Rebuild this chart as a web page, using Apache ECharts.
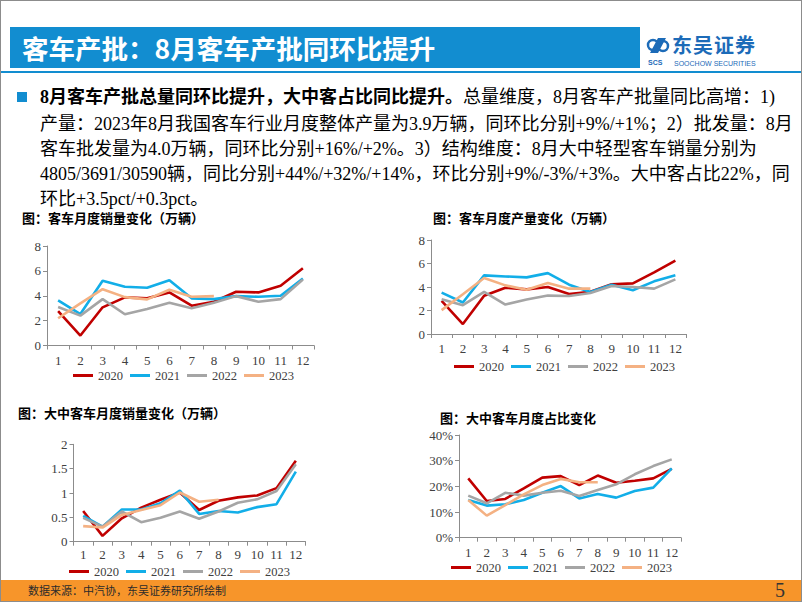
<!DOCTYPE html>
<html><head><meta charset="utf-8">
<script src="https://cdn.jsdelivr.net/npm/echarts@6/dist/echarts.min.js"></script>
<style>
html,body{margin:0;padding:0;background:#fff;}
#page{position:relative;width:802px;height:602px;overflow:hidden;background:#fff;}
#chart{position:absolute;left:0;top:0;width:802px;height:602px;}
.frame{position:absolute;left:0;top:0;width:800px;height:600px;border:1px solid #8c8c8c;pointer-events:none;}
.hdr{position:absolute;left:10px;top:27px;width:630px;height:41px;background:#128dd0;}
.hdr span{position:absolute;left:12px;top:0;line-height:41px;color:#fff;font-family:"Noto Sans CJK SC";font-weight:bold;font-size:26.5px;white-space:nowrap;}
.bar{position:absolute;left:0;top:71px;width:802px;height:2px;background:#128dd0;}
.bullet{position:absolute;left:17px;top:92px;width:10px;height:10px;background:#128dd0;}
.ln{position:absolute;left:40px;white-space:nowrap;font-family:"Liberation Serif","Noto Sans CJK SC";font-size:18px;line-height:24px;color:#000;}
.ln b{font-family:"Liberation Serif","Noto Sans CJK SC";font-weight:bold;}
.foot{position:absolute;left:0;top:580px;width:802px;height:21px;background:#f7952a;}
.foot .src{position:absolute;left:28px;top:0;line-height:21px;font-family:"Noto Sans CJK SC";font-size:11px;color:#2b2b2b;}
.foot .pg{position:absolute;right:17px;top:-2px;line-height:24px;font-family:"Liberation Serif";font-size:20px;color:#333;}
.logo{position:absolute;left:646px;top:35px;width:150px;height:34px;}
.logo .cn{position:absolute;left:26px;top:0;font-family:"Noto Sans CJK SC";font-weight:bold;font-size:20px;line-height:20px;color:#1c6bb8;letter-spacing:1px;}
.logo .en{position:absolute;left:28px;top:25px;font-family:"Liberation Sans";font-size:7px;line-height:8px;color:#1c6bb8;}
.logo .scs{position:absolute;left:2px;top:24px;font-family:"Liberation Sans";font-weight:bold;font-size:7px;line-height:8px;color:#1c6bb8;}
</style></head>
<body>
<div id="page">
  <div class="hdr"><span>客车产批：8月客车产批同环比提升</span></div>
  <div class="logo">
    <svg width="24" height="22" style="position:absolute;left:0;top:0">
      <path d="M4 18 L12 3 L20 3 L12 18 Z" fill="#1c6bb8"/>
      <circle cx="7" cy="10" r="5" fill="none" stroke="#1c6bb8" stroke-width="2.5"/>
      <circle cx="17" cy="11" r="5" fill="none" stroke="#1c6bb8" stroke-width="2.5"/>
    </svg>
    <div class="scs">SCS</div>
    <div class="cn">东吴证券</div>
    <div class="en">SOOCHOW SECURITIES</div>
  </div>
  <div class="bar"></div>
  <div class="bullet"></div>
  <div class="ln" style="top:85px"><b>8月客车产批总量同环比提升，大中客占比同比提升。</b>总量维度，8月客车产批量同比高增：1)</div>
  <div class="ln" style="top:112px">产量：2023年8月我国客车行业月度整体产量为3.9万辆，同环比分别+9%/+1%；2）批发量：8月</div>
  <div class="ln" style="top:137px">客车批发量为4.0万辆，同环比分别+16%/+2%。3）结构维度：8月大中轻型客车销量分别为</div>
  <div class="ln" style="top:162px">4805/3691/30590辆，同比分别+44%/+32%/+14%，环比分别+9%/-3%/+3%。大中客占比22%，同</div>
  <div class="ln" style="top:187px">环比+3.5pct/+0.3pct。</div>
  <div id="chart"></div>
  <div class="foot"><span class="src">数据来源：中汽协，东吴证券研究所绘制</span><span class="pg">5</span></div>
  <div class="frame"></div>
</div>
<script>
const months = ['1','2','3','4','5','6','7','8','9','10','11','12'];
const years = ['2020','2021','2022','2023'];
const chartTitles = ['图：客车月度销量变化（万辆）','图：客车月度产量变化（万辆）','图：大中客车月度销量变化（万辆）','图：大中客车月度占比变化'];

const sales2020 = [2.77,0.80,3.07,3.87,3.79,4.27,3.20,3.52,4.32,4.27,4.80,6.21];
const sales2021 = [3.63,2.53,5.20,4.72,4.64,5.25,3.79,3.73,3.97,3.92,4.00,5.39];
const sales2022 = [3.09,2.40,3.73,2.51,2.93,3.44,2.99,3.44,3.97,3.52,3.73,5.31];
const sales2023 = [2.19,3.39,4.53,3.89,3.71,4.48,3.92,3.97];

const prod2020 = [2.81,0.85,3.26,3.94,3.80,4.00,3.40,3.60,4.23,4.31,5.25,6.25];
const prod2021 = [3.52,2.68,4.99,4.90,4.82,5.18,4.20,3.58,4.20,3.72,4.48,4.99];
const prod2022 = [2.96,2.45,3.58,2.51,2.93,3.27,3.24,3.49,4.08,4.00,3.86,4.65];
const prod2023 = [2.03,3.38,4.76,4.14,3.77,4.34,3.86,3.86];

const large2020 = [0.63,0.12,0.48,0.70,0.86,1.01,0.65,0.84,0.91,0.95,1.10,1.66];
const large2021 = [0.53,0.31,0.66,0.66,0.79,1.05,0.57,0.63,0.60,0.71,0.77,1.44];
const large2022 = [0.49,0.31,0.62,0.40,0.49,0.62,0.47,0.62,0.80,0.87,1.04,1.59];
const large2023 = [0.32,0.29,0.55,0.65,0.75,1.01,0.82,0.86];

const share2020 = [23.1,14.3,15.1,19.2,23.4,24.0,20.5,24.2,21.4,22.2,23.1,26.8];
const share2021 = [14.7,12.5,13.0,14.7,17.5,20.1,15.3,17.0,15.6,18.2,19.5,27.0];
const share2022 = [16.4,13.4,17.5,16.4,17.5,18.3,16.2,18.6,20.8,24.7,27.9,30.5];
const share2023 = [14.7,8.6,12.7,16.9,20.5,22.9,21.6,21.6];

const colors = ['#c00000','#12aee8','#a5a5a5','#f4b183'];
const panels = [
  {data:[sales2020,sales2021,sales2022,sales2023], max:8, interval:2, fmt:null,
   grid:{left:47,top:246,width:267,height:99.5}, title:{left:22,top:211}, legend:{left:73,top:369}},
  {data:[prod2020,prod2021,prod2022,prod2023], max:8, interval:2, fmt:null,
   grid:{left:431,top:240,width:255,height:94}, title:{left:433,top:211}, legend:{left:454,top:360}},
  {data:[large2020,large2021,large2022,large2023], max:2, interval:0.5, fmt:null,
   grid:{left:73.5,top:444.3,width:232,height:97.4}, title:{left:18,top:406}, legend:{left:69,top:565}},
  {data:[share2020,share2021,share2022,share2023], max:40, interval:10, fmt:'{value}%',
   grid:{left:459,top:435,width:222,height:102.7}, title:{left:440,top:411}, legend:{left:451,top:561}}
];
const serif = '"Liberation Serif","Times New Roman",serif';
const axisLine = {lineStyle:{color:'#8c8c8c',width:1}};
const option = {animation:false, title:[], legend:[], grid:[], xAxis:[], yAxis:[], series:[]};
panels.forEach((p,i)=>{
  option.title.push({text:chartTitles[i], left:p.title.left, top:p.title.top, padding:0,
    textStyle:{fontFamily:'"Noto Sans CJK SC"', fontWeight:'bold', fontSize:13, color:'#000'}});
  option.legend.push({data:years.map((y,k)=>({name:y+'#'+i})), left:p.legend.left, top:p.legend.top, padding:0,
    icon:'rect', itemWidth:20, itemHeight:3, itemGap:7,
    formatter:(n)=>n.split('#')[0],
    textStyle:{fontFamily:serif, fontSize:12.5, color:'#404040', lineHeight:12}});
  option.grid.push(Object.assign({containLabel:false}, p.grid));
  option.xAxis.push({type:'category', gridIndex:i, data:months, boundaryGap:true,
    axisLine:axisLine, axisTick:{show:true, lineStyle:{color:'#8c8c8c'}, length:4},
    axisLabel:{fontFamily:serif, fontSize:13, color:'#404040', margin:i===2?6:8, interval:0, lineHeight:13}});
  option.yAxis.push({type:'value', gridIndex:i, min:0, max:p.max, interval:p.interval,
    axisLine:{show:true, lineStyle:{color:'#8c8c8c'}}, axisTick:{show:true, length:4, lineStyle:{color:'#8c8c8c'}},
    splitLine:{show:false},
    axisLabel:{fontFamily:serif, fontSize:13, color:'#404040', margin:6, formatter:p.fmt||undefined}});
  p.data.forEach((d,k)=>{
    option.series.push({type:'line', name:years[k]+'#'+i, xAxisIndex:i, yAxisIndex:i, data:d,
      symbol:'none', lineStyle:{width:2.6, color:colors[k]}, itemStyle:{color:colors[k]}});
  });
});
const chart = echarts.init(document.getElementById('chart'), null, {renderer:'svg'});
chart.setOption(option);
</script>
</body></html>
